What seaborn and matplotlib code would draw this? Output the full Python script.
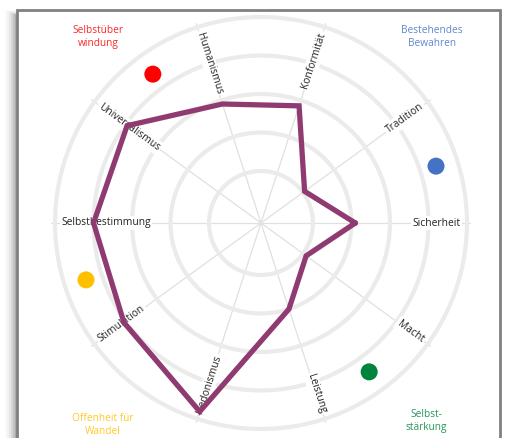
import numpy as np
import pandas as pd
import matplotlib
matplotlib.use("Agg")
import matplotlib.pyplot as plt
from matplotlib.patches import Rectangle
import seaborn as sns

# Werte (Schwartz-Werte), gegen den Uhrzeigersinn ab "Sicherheit"
werte = ["Sicherheit", "Tradition", "Konformität", "Humanismus", "Universalismus",
         "Selbstbestimmung", "Stimulation", "Hedonismus", "Leistung", "Macht"]
auspraegung = [2.1, 1.05, 2.85, 2.9, 3.95, 4.0, 4.05, 4.8, 2.0, 1.1]

# Gruppen: Punkt liegt zwischen Achse i und i+1
gruppen = ["Bestehendes\nBewahren", "Selbstüber\nwindung", "Offenheit für\nWandel", "Selbst-\nstärkung"]
gruppen_achse = [0, 3, 5, 8]
gruppen_farben = ["#4472c4", "#ff0000", "#ffc000", "#00843d"]

ringe = [1, 2, 3, 4, 5]

sns.set_style("white")
plt.rcParams["font.family"] = ["Open Sans", "DejaVu Sans"]

fig = plt.figure(figsize=(5.06, 4.38), dpi=100)

# Rahmen mit Schatten
top = 1 - 10 / 438
for i, a in enumerate([0.03, 0.05, 0.08, 0.11, 0.15, 0.2]):
    fig.patches.append(Rectangle((5 / 506 + i * 2 / 506, -0.1), 14 / 506, top + 0.1 - i * 0.002,
                                 transform=fig.transFigure, facecolor="black", alpha=a * 0.6,
                                 edgecolor="none", zorder=0))
fig.patches.append(Rectangle((17 / 506, -0.1), 483 / 506, top + 0.1, transform=fig.transFigure,
                             facecolor="white", edgecolor="#808080", linewidth=2, zorder=1))

ax = fig.add_axes([(261 - 210) / 506, (438 - 223 - 210) / 438, 420 / 506, 420 / 438], projection="polar")
ax.set_zorder(3)
ax.set_facecolor("none")
ax.spines["polar"].set_visible(False)

n = len(werte)
winkel = np.arange(n) * 2 * np.pi / n

# geschlossenes Polygon: letzter Punkt bei 2*pi
df = pd.DataFrame({"winkel": np.append(winkel, 2 * np.pi),
                   "wert": auspraegung + [auspraegung[0]]})

ax.set_ylim(-0.35, 5.105)
ax.set_rgrids(ringe, labels=[])
ax.set_thetagrids(np.degrees(winkel), labels=[])
ax.yaxis.grid(True, color="#ebebeb", linewidth=3.0)
ax.xaxis.grid(True, color="#e0e0e0", linewidth=0.9)

sns.lineplot(data=df, x="winkel", y="wert", sort=False, estimator=None, ax=ax,
             color="#8f3b72", linewidth=3.8, zorder=5)
for l in ax.lines:
    l.set_solid_joinstyle("miter")

# Achsenbeschriftungen
for w, name in zip(winkel, werte):
    deg = np.degrees(w)
    if deg < 90 or deg > 270:
        rot = deg if deg < 90 else deg - 360
        ha = "right"
    else:
        rot = deg - 180
        ha = "left"
    ax.text(w, 4.84, name, rotation=rot, rotation_mode="anchor", ha=ha, va="center",
            fontsize=7.4, color="#222222", zorder=4,
            bbox=dict(facecolor="white", edgecolor="none", pad=1.2))

# Gruppenpunkte
punkte = pd.DataFrame({"winkel": [winkel[i] + np.pi / n for i in gruppen_achse],
                       "r": [4.43] * len(gruppen_achse),
                       "gruppe": gruppen})
sns.scatterplot(data=punkte, x="winkel", y="r", hue="gruppe", palette=gruppen_farben,
                s=150, edgecolor="none", legend=False, ax=ax, zorder=6)
ax.set_xlabel("")
ax.set_ylabel("")

# Gruppenbeschriftungen in den Ecken
ecken = [(432, 37), (98, 37), (103, 425), (426, 421)]
for (px, py), txt, c in zip(ecken, gruppen, gruppen_farben):
    fig.text(px / 506, 1 - py / 438, txt, ha="center", va="center", fontsize=7.3,
             color=c, alpha=0.85, linespacing=1.3, zorder=4)

fig.savefig("out.png", dpi=100)
